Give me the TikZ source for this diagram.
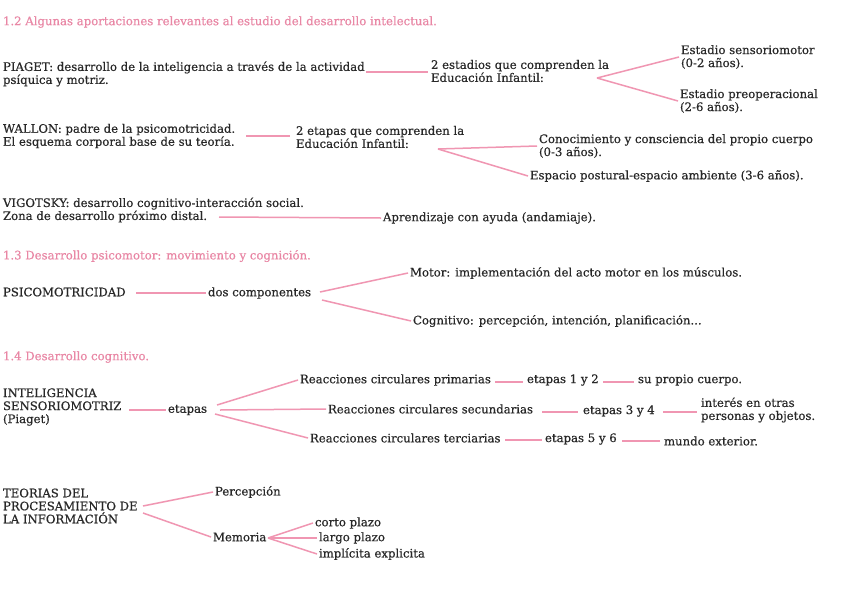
\documentclass[tikz,border=0pt]{standalone}
\usepackage{fontspec}
\setmainfont[FakeBold=0.5]{DejaVu Serif}
\usetikzlibrary{calc}
\definecolor{txt}{RGB}{40,40,40}
\definecolor{pinkh}{RGB}{233,135,165}
\definecolor{pinkl}{RGB}{240,150,178}
\tikzset{
  t/.style={anchor=west,inner sep=2pt,outer sep=0pt,text=txt,align=left,font=\fontsize{11.7}{13}\selectfont},
  hd/.style={anchor=west,inner sep=2pt,outer sep=0pt,text=pinkh,font=\fontsize{11.7}{13}\selectfont},
  ln/.style={draw=pinkl,line width=1.5pt}
}
\begin{document}
\begin{tikzpicture}[x=1pt,y=-1pt]
\useasboundingbox[fill=white] (0,0) rectangle (848,600);
% 1.2
\node[hd] (h12) at (1,22) {1.2 Algunas aportaciones relevantes al estudio del desarrollo intelectual.};
\node[t] (piaget) at (1,74) {PIAGET: desarrollo de la inteligencia a través de la actividad\\psíquica y motriz.};
\node[t] (estad) at (429,71) {2 estadios que comprenden la\\Educación Infantil:};
\node[t] (sens) at (679,57) {Estadio sensoriomotor\\(0-2 años).};
\node[t] (preop) at (678,101) {Estadio preoperacional\\(2-6 años).};
\coordinate (f1) at (597,78);
\draw[ln] (366,72) -- (428,72);
\draw[ln] (f1) -- (sens.west);
\draw[ln] (f1) -- (preop.west);
\node[t] (wallon) at (1,136) {WALLON: padre de la psicomotricidad.\\El esquema corporal base de su teoría.};
\node[t] (etap) at (294,137) {2 etapas que comprenden la\\Educación Infantil:};
\node[t] (conoc) at (537,146) {Conocimiento y consciencia del propio cuerpo\\(0-3 años).};
\node[t] (espac) at (528,176) {Espacio postural-espacio ambiente (3-6 años).};
\coordinate (f2) at (438,149);
\draw[ln] (246,136) -- (290,136);
\draw[ln] (f2) -- (conoc.west);
\draw[ln] (f2) -- (espac.west);
\node[t] (vigot) at (1,210) {VIGOTSKY: desarrollo cognitivo-interacción social.\\Zona de desarrollo próximo distal.};
\node[t] (apren) at (381,218) {Aprendizaje con ayuda (andamiaje).};
\draw[ln] (219,217) -- (apren.west);
% 1.3
\node[hd] (h13) at (1,256) {1.3 Desarrollo psicomotor: movimiento y cognición.};
\node[t] (psico) at (1,292) {PSICOMOTRICIDAD};
\node[t] (dosc) at (206,293) {dos componentes};
\node[t] (motor) at (408,273) {Motor: implementación del acto motor en los músculos.};
\node[t] (cogn) at (411,321) {Cognitivo: percepción, intención, planificación...};
\draw[ln] (136,293) -- (dosc.west);
\draw[ln] (320,292) -- (motor.west);
\draw[ln] (322,300) -- (cogn.west);
% 1.4
\node[hd] (h14) at (1,357) {1.4 Desarrollo cognitivo.};
\node[t] (intel) at (1,407) {INTELIGENCIA\\SENSORIOMOTRIZ\\(Piaget)};
\node[t] (etapas) at (166,410) {etapas};
\node[t] (rprim) at (298,380) {Reacciones circulares primarias};
\node[t] (rsec) at (326,409) {Reacciones circulares secundarias};
\node[t] (rter) at (308,438) {Reacciones circulares terciarias};
\draw[ln] (129,410) -- (etapas.west);
\draw[ln] (217,405) -- (rprim.west);
\draw[ln] (220,410) -- (rsec.west);
\draw[ln] (215,414) -- (rter.west);
\node[t] (e12) at (525,380) {etapas 1 y 2};
\node[t] (e34) at (581,411) {etapas 3 y 4};
\node[t] (e56) at (543,439) {etapas 5 y 6};
\node[t] (cuerpo) at (636,380) {su propio cuerpo.};
\node[t] (inter) at (699,410) {interés en otras\\personas y objetos.};
\node[t] (mundo) at (662,441) {mundo exterior.};
\draw[ln] (495,382) -- (523,382);
\draw[ln] (603,382) -- (634,382);
\draw[ln] (542,412) -- (578,412);
\draw[ln] (663,412) -- (697,412);
\draw[ln] (505,440) -- (542,440);
\draw[ln] (622,441) -- (660,441);
% teorias
\node[t] (teor) at (1,506) {TEORIAS DEL\\PROCESAMIENTO DE\\LA INFORMACIÓN};
\node[t] (perc) at (213,492) {Percepción};
\node[t] (memo) at (211,537) {Memoria};
\node[t] (corto) at (313,523) {corto plazo};
\node[t] (largo) at (317,538) {largo plazo};
\node[t] (impl) at (317,554) {implícita explicita};
\draw[ln] (143,506) -- (perc.west);
\draw[ln] (143,513) -- (memo.west);
\coordinate (f3) at (268,538);
\draw[ln] (f3) -- (corto.west);
\draw[ln] (f3) -- (largo.west);
\draw[ln] (f3) -- (impl.west);
\end{tikzpicture}
\end{document}
